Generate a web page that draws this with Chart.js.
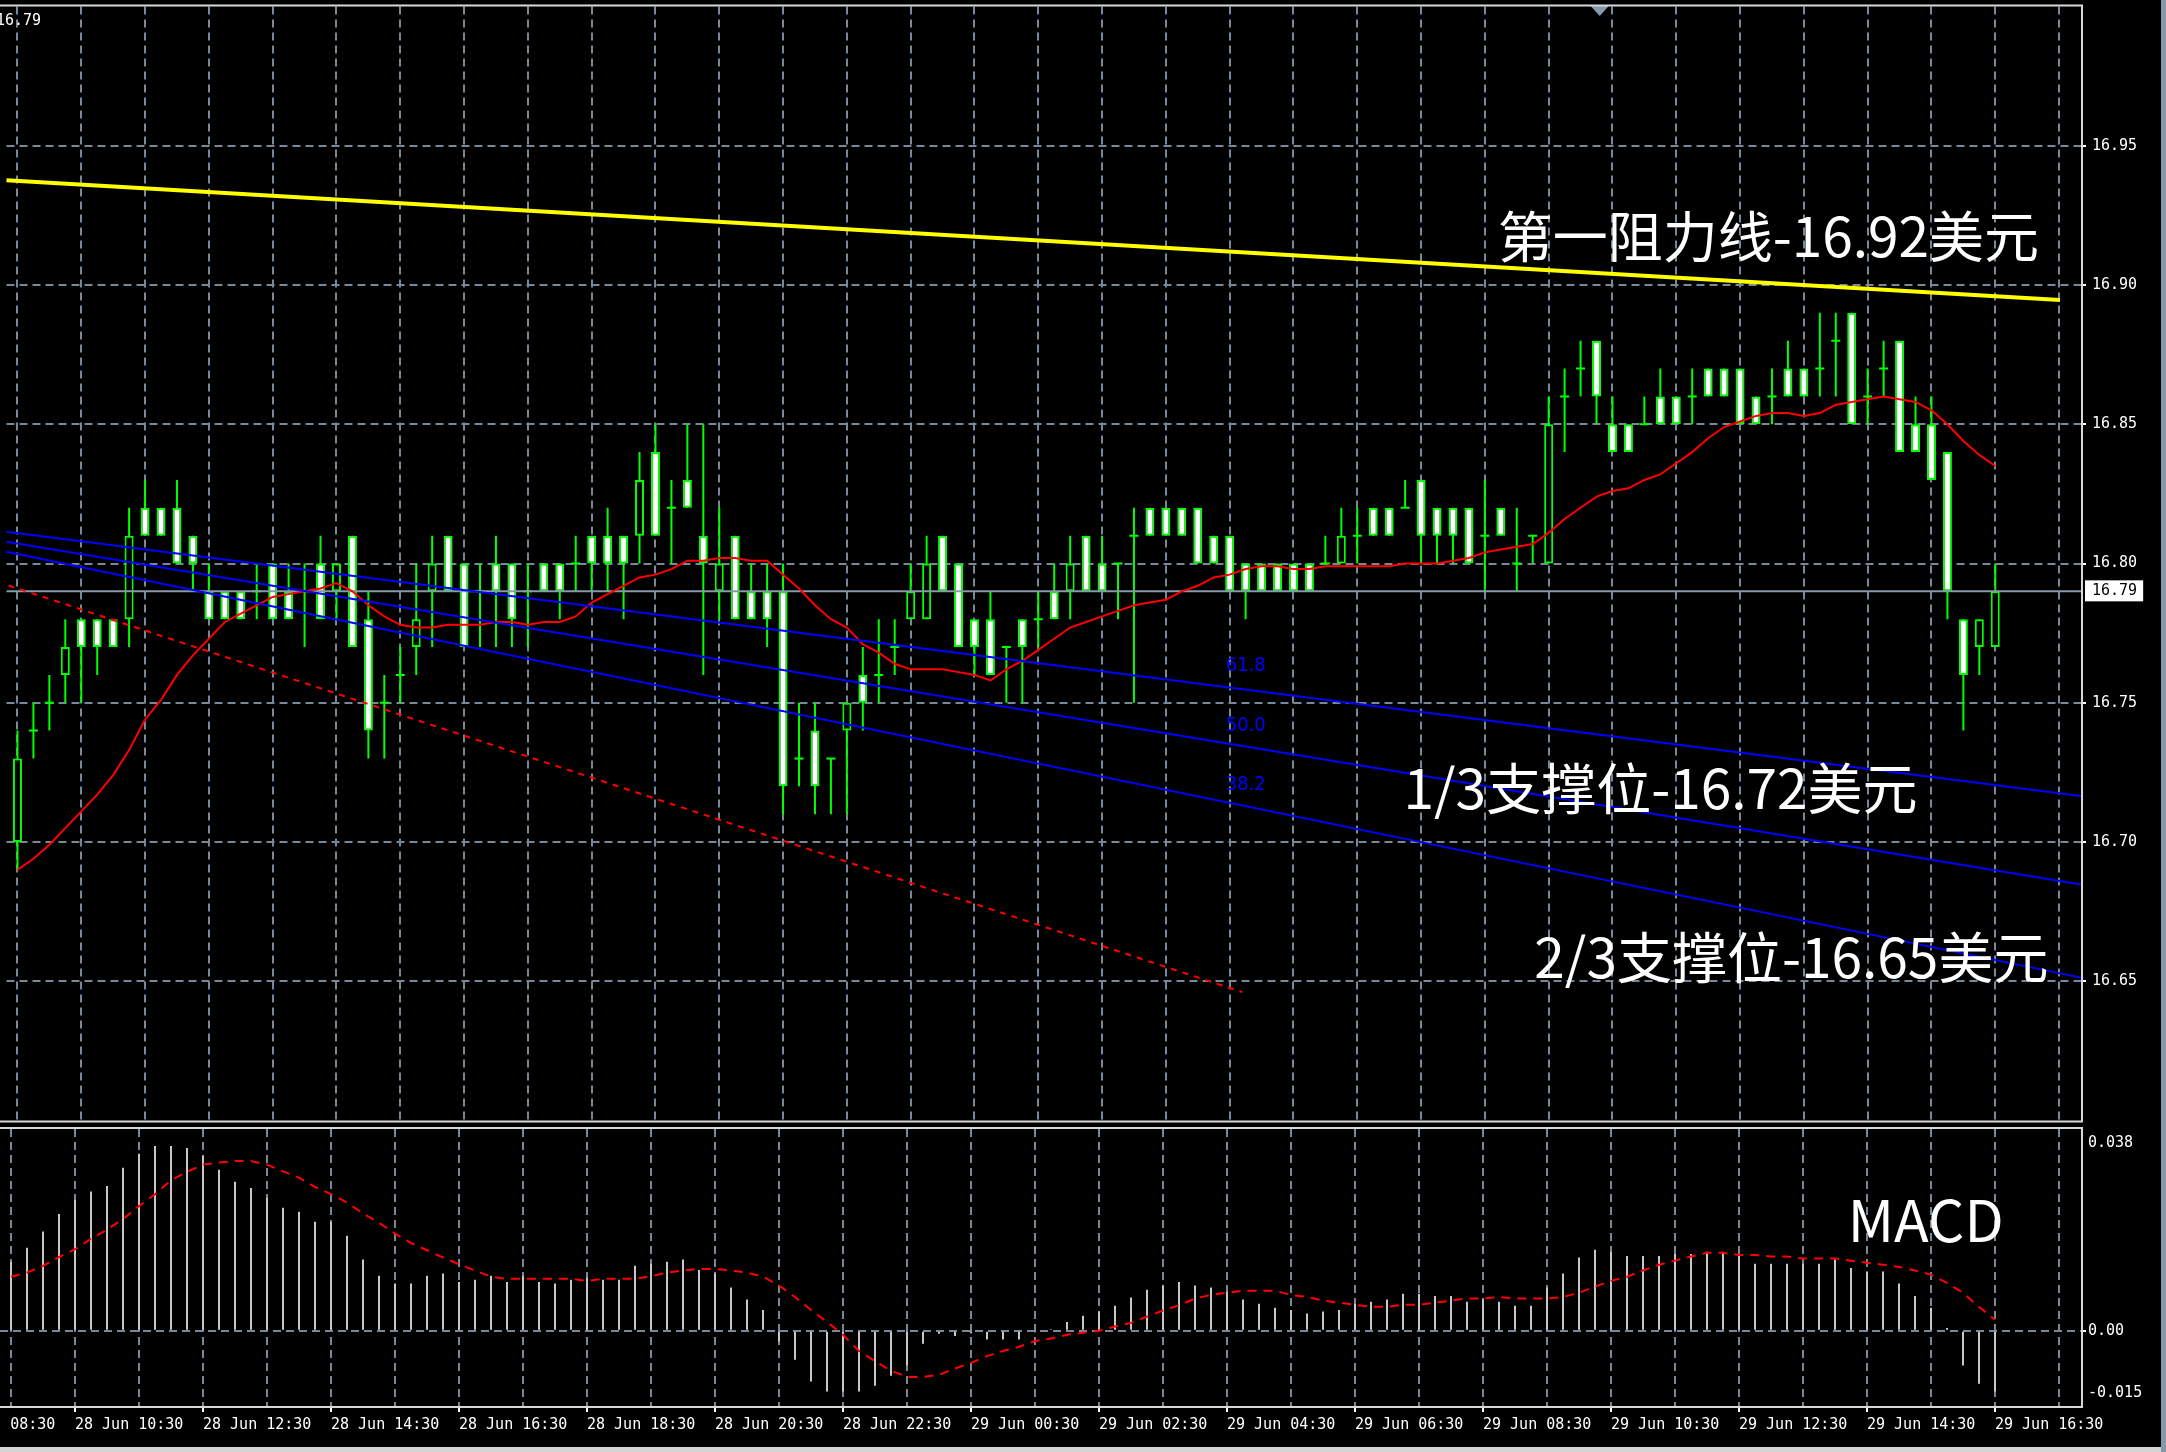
<!DOCTYPE html>
<html><head><meta charset="utf-8">
<script src="https://cdn.jsdelivr.net/npm/chart.js@4.4.1/dist/chart.umd.min.js"></script>
<style>
html,body{margin:0;padding:0;background:#000;width:2166px;height:1452px;overflow:hidden;}
#wrap{position:relative;width:2166px;height:1452px;background:#000;}
#c1{position:absolute;left:0;top:0;}
#c2{position:absolute;left:0;top:1127px;}
#edgeR{position:absolute;left:2161px;top:0;width:5px;height:1452px;background:#8796a8;}
#edgeB{position:absolute;left:0;top:1447px;width:2161px;height:5px;background:#d4d4d4;}
</style></head><body>
<div id="wrap">
<canvas id="c1" width="2166" height="1127" style="width:2166px;height:1127px"></canvas>
<canvas id="c2" width="2166" height="325" style="width:2166px;height:325px"></canvas>
<div id="edgeR"></div><div id="edgeB"></div>
</div>
<script>
// ---------------- DATA (M15 silver, candle 0 = 28 Jun 09:30) ----------------
const opens  = [16.70,16.74,16.75,16.76,16.78,16.78,16.78,16.78,16.82,16.82,16.82,16.81,16.79,16.79,16.79,16.79,16.80,16.79,16.79,16.80,
16.79,16.81,16.78,16.75,16.76,16.77,16.79,16.81,16.80,16.79,16.80,16.80,16.79,16.80,16.80,16.80,16.81,16.81,16.81,16.81,
16.84,16.82,16.83,16.81,16.79,16.81,16.79,16.79,16.79,16.73,16.74,16.73,16.74,16.76,16.76,16.77,16.78,16.78,16.81,16.80,
16.78,16.78,16.77,16.78,16.78,16.79,16.79,16.81,16.80,16.80,16.81,16.82,16.82,16.82,16.82,16.81,16.81,16.80,16.80,16.80,
16.80,16.80,16.80,16.80,16.81,16.82,16.82,16.82,16.83,16.82,16.82,16.82,16.81,16.82,16.80,16.81,16.80,16.86,16.87,16.88,
16.85,16.85,16.85,16.86,16.86,16.86,16.87,16.87,16.87,16.86,16.86,16.87,16.87,16.87,16.88,16.89,16.86,16.87,16.88,16.85,
16.85,16.84,16.78,16.77,16.77];
const highs  = [16.74,16.75,16.76,16.78,16.78,16.78,16.78,16.82,16.83,16.82,16.83,16.81,16.80,16.79,16.79,16.80,16.80,16.80,16.80,16.81,
16.80,16.81,16.79,16.76,16.77,16.80,16.81,16.81,16.80,16.80,16.81,16.80,16.80,16.80,16.80,16.81,16.81,16.82,16.81,16.84,
16.85,16.83,16.85,16.85,16.82,16.81,16.80,16.80,16.80,16.75,16.75,16.73,16.75,16.77,16.78,16.78,16.80,16.81,16.81,16.80,
16.78,16.79,16.77,16.78,16.79,16.80,16.81,16.81,16.81,16.80,16.82,16.82,16.82,16.82,16.82,16.81,16.81,16.80,16.80,16.80,
16.80,16.80,16.81,16.82,16.82,16.82,16.82,16.83,16.83,16.82,16.82,16.82,16.83,16.82,16.82,16.81,16.86,16.87,16.88,16.88,
16.86,16.85,16.86,16.87,16.86,16.87,16.87,16.87,16.87,16.86,16.87,16.88,16.87,16.89,16.89,16.89,16.87,16.88,16.88,16.86,
16.86,16.84,16.78,16.78,16.80];
const lows   = [16.69,16.73,16.74,16.75,16.75,16.76,16.77,16.77,16.81,16.81,16.80,16.79,16.78,16.78,16.78,16.78,16.78,16.78,16.77,16.78,
16.78,16.77,16.73,16.73,16.75,16.76,16.77,16.79,16.77,16.77,16.77,16.77,16.77,16.79,16.78,16.79,16.79,16.79,16.78,16.80,
16.81,16.80,16.82,16.76,16.78,16.78,16.78,16.77,16.71,16.72,16.71,16.71,16.71,16.74,16.75,16.76,16.78,16.78,16.79,16.77,
16.76,16.76,16.75,16.75,16.77,16.78,16.78,16.79,16.79,16.78,16.75,16.81,16.81,16.81,16.80,16.80,16.79,16.78,16.79,16.79,
16.79,16.79,16.80,16.80,16.80,16.81,16.81,16.82,16.80,16.80,16.80,16.80,16.79,16.81,16.79,16.80,16.80,16.84,16.86,16.85,
16.84,16.84,16.85,16.85,16.85,16.85,16.86,16.86,16.85,16.85,16.85,16.86,16.86,16.86,16.86,16.85,16.85,16.86,16.84,16.84,
16.83,16.78,16.74,16.76,16.77];
const closes = [16.73,16.74,16.75,16.77,16.77,16.77,16.77,16.81,16.81,16.81,16.80,16.80,16.78,16.78,16.78,16.79,16.78,16.78,16.79,16.78,
16.80,16.77,16.74,16.75,16.76,16.78,16.80,16.79,16.77,16.79,16.79,16.78,16.79,16.79,16.79,16.80,16.80,16.80,16.80,16.83,
16.81,16.82,16.82,16.80,16.80,16.78,16.78,16.78,16.72,16.73,16.72,16.73,16.75,16.75,16.76,16.77,16.79,16.80,16.79,16.77,
16.77,16.76,16.77,16.77,16.78,16.78,16.80,16.79,16.79,16.80,16.81,16.81,16.81,16.81,16.80,16.80,16.79,16.79,16.79,16.79,
16.79,16.79,16.80,16.81,16.81,16.81,16.81,16.82,16.81,16.81,16.81,16.80,16.81,16.81,16.80,16.81,16.85,16.86,16.87,16.86,
16.84,16.84,16.85,16.85,16.85,16.86,16.86,16.86,16.85,16.85,16.86,16.86,16.86,16.87,16.88,16.85,16.86,16.87,16.84,16.84,
16.83,16.79,16.76,16.78,16.79];
const maValues = [16.690,16.694,16.699,16.705,16.711,16.717,16.724,16.733,16.744,16.751,16.760,16.767,16.773,16.779,16.782,16.785,16.788,16.789,16.790,16.791,
16.793,16.790,16.785,16.781,16.778,16.777,16.777,16.778,16.778,16.778,16.779,16.779,16.778,16.779,16.779,16.781,16.786,16.789,16.792,16.795,
16.796,16.798,16.801,16.801,16.802,16.802,16.801,16.801,16.796,16.791,16.785,16.780,16.777,16.771,16.768,16.764,16.762,16.762,16.762,16.761,
16.760,16.758,16.762,16.765,16.769,16.773,16.777,16.779,16.781,16.783,16.785,16.786,16.787,16.790,16.792,16.795,16.796,16.798,16.799,16.799,
16.798,16.798,16.799,16.799,16.799,16.799,16.799,16.800,16.800,16.800,16.801,16.802,16.804,16.805,16.806,16.807,16.811,16.816,16.820,16.824,
16.826,16.827,16.830,16.832,16.836,16.840,16.845,16.849,16.851,16.853,16.854,16.854,16.853,16.854,16.857,16.858,16.859,16.860,16.859,16.858,
16.855,16.850,16.844,16.839,16.835];
const macdHist = [0.0133,0.0160,0.0191,0.0225,0.0252,0.0268,0.0279,0.0314,0.0341,0.0356,0.0356,0.0352,0.0337,0.0310,0.0287,0.0275,0.0256,0.0237,0.0229,0.0210,
0.0210,0.0183,0.0137,0.0106,0.0091,0.0091,0.0106,0.0110,0.0094,0.0098,0.0106,0.0094,0.0106,0.0094,0.0091,0.0098,0.0102,0.0098,0.0098,0.0125,
0.0129,0.0133,0.0137,0.0117,0.0110,0.0083,0.0060,0.0040,-0.0021,-0.0056,-0.0098,-0.0117,-0.0117,-0.0117,-0.0106,-0.0087,-0.0067,-0.0025,-0.0006,-0.0010,
-0.0005,-0.0017,-0.0017,-0.0017,-0.0003,0.0003,0.0017,0.0029,0.0037,0.0048,0.0064,0.0079,0.0087,0.0094,0.0087,0.0083,0.0075,0.0060,0.0052,0.0044,
0.0040,0.0033,0.0037,0.0040,0.0052,0.0056,0.0060,0.0071,0.0071,0.0067,0.0067,0.0056,0.0060,0.0056,0.0048,0.0048,0.0083,0.0110,0.0141,0.0156,
0.0152,0.0144,0.0144,0.0144,0.0148,0.0148,0.0152,0.0152,0.0148,0.0129,0.0129,0.0129,0.0129,0.0129,0.0137,0.0121,0.0114,0.0114,0.0091,0.0067,
0.0044,0.0005,-0.0067,-0.0102,-0.0117];
const macdSignal = [0.0104,0.0112,0.0125,0.0142,0.0157,0.0177,0.0195,0.0215,0.0240,0.0263,0.0290,0.0306,0.0320,0.0324,0.0327,0.0327,0.0320,0.0307,0.0295,0.0277,
0.0263,0.0247,0.0226,0.0208,0.0187,0.0169,0.0155,0.0141,0.0128,0.0116,0.0104,0.0100,0.0100,0.0100,0.0100,0.0100,0.0096,0.0100,0.0100,0.0100,
0.0105,0.0112,0.0116,0.0119,0.0119,0.0116,0.0112,0.0104,0.0087,0.0065,0.0040,0.0017,-0.0008,-0.0039,-0.0059,-0.0077,-0.0089,-0.0089,-0.0085,-0.0073,
-0.0062,-0.0049,-0.0039,-0.0031,-0.0020,-0.0015,-0.0008,-0.0004,0.0000,0.0008,0.0015,0.0027,0.0039,0.0049,0.0062,0.0069,0.0073,0.0077,0.0077,0.0077,
0.0069,0.0065,0.0058,0.0054,0.0050,0.0046,0.0046,0.0050,0.0050,0.0054,0.0058,0.0062,0.0062,0.0065,0.0062,0.0062,0.0062,0.0065,0.0073,0.0085,
0.0096,0.0104,0.0116,0.0127,0.0135,0.0143,0.0150,0.0150,0.0146,0.0146,0.0143,0.0143,0.0139,0.0139,0.0139,0.0135,0.0131,0.0127,0.0123,0.0116,
0.0108,0.0092,0.0073,0.0046,0.0021];
// drawn objects (candle index, price)
const resistanceLine = [[-0.69, 16.9376], [128.06, 16.8946]];
const fibLine618 = [[-0.6875, 16.8114], [129.375, 16.7165]];
const fibLine500 = [[-0.6875, 16.8078], [129.375, 16.6847]];
const fibLine382 = [[-0.6875, 16.8042], [129.375, 16.6513]];
const redTrend   = [[-0.56, 16.7921], [76.8, 16.6461]];
const currentPrice = 16.79;
const priceTickValues = [16.65, 16.70, 16.75, 16.80, 16.85, 16.90, 16.95];
const priceTickLabels = ['16.65','16.70','16.75','16.80','16.85','16.90','16.95'];
const macdTickLabels = ['0.038','0.00','-0.015'];
const timeTickIdx = [-4,4,12,20,28,36,44,52,60,68,76,84,92,100,108,116,124];
const timeTickLabels = ['28 Jun 08:30','28 Jun 10:30','28 Jun 12:30','28 Jun 14:30','28 Jun 16:30','28 Jun 18:30','28 Jun 20:30','28 Jun 22:30',
 '29 Jun 00:30','29 Jun 02:30','29 Jun 04:30','29 Jun 06:30','29 Jun 08:30','29 Jun 10:30','29 Jun 12:30','29 Jun 14:30','29 Jun 16:30'];
const fibLabels = ['61.8','50.0','38.2'];
const noteTexts = ['第一阻力线-16.92美元','1/3支撑位-16.72美元','2/3支撑位-16.65美元'];

// ---------------- LAYOUT / STYLE ----------------
const X_MIN = -0.6875, X_MAX = 129.375;
const GRID = '#778899', DASH = [8,5];
const AXIS_FONT = {family: 'DejaVu Sans Mono', size: 15};
const gridTicks = []; for (let t = 0; t <= 128; t += 4) gridTicks.push(t);
const fibLabelPos = [[75.75, 16.7631],[75.75, 16.7419],[75.75, 16.7206]];
const notePos = [[92.8, 16.9175],[86.9, 16.7195],[95.1, 16.6588]];
const macdNotePos = [114.8, 0.02133];
const shiftMarkerIdx = 99.2;

const idx = opens.map((_, i) => i);
const wickData = idx.map(i => ({x: i, y: [lows[i], highs[i]]}));
const bodyIdx = idx.filter(i => opens[i] !== closes[i]);
const bodyData = bodyIdx.map(i => ({x: i, y: [Math.min(opens[i], closes[i]), Math.max(opens[i], closes[i])]}));
const bodyFill = bodyIdx.map(i => closes[i] > opens[i] ? '#000000' : '#ffffff');
const dojiData = idx.filter(i => opens[i] === closes[i]).map(i => ({x: i, y: closes[i]}));
const maData = idx.map(i => ({x: i, y: maValues[i]}));
const pts = a => a.map(p => ({x: p[0], y: p[1]}));
const isCur = c => c.tick && Math.abs(c.tick.value - currentPrice) < 1e-9;

const lineDs = (data, color, width, dash, order) => ({type: 'line', data, borderColor: color, borderWidth: width,
  borderDash: dash || [], pointRadius: 0, pointHoverRadius: 0, tension: 0, fill: false, order, clip: false});

const overlay1 = {
  id: 'overlay1',
  afterDatasetsDraw(chart) {
    const {ctx, scales: {x, y}} = chart;
    ctx.save();
    ctx.fillStyle = '#0000ff';
    ctx.font = '20px "Liberation Sans Narrow", "DejaVu Sans Condensed", "DejaVu Sans"';
    ctx.textBaseline = 'middle'; ctx.textAlign = 'left';
    fibLabels.forEach((t, k) => ctx.fillText(t, x.getPixelForValue(fibLabelPos[k][0]), y.getPixelForValue(fibLabelPos[k][1])));
    ctx.fillStyle = '#ffffff';
    ctx.font = '55px "Noto Sans CJK SC"';
    noteTexts.forEach((t, k) => ctx.fillText(t, x.getPixelForValue(notePos[k][0]), y.getPixelForValue(notePos[k][1])));
    ctx.font = '15px "DejaVu Sans Mono"';
    ctx.fillText(String(currentPrice.toFixed(2)), -4, 21);
    const mx = x.getPixelForValue(shiftMarkerIdx);
    ctx.fillStyle = '#8899aa';
    ctx.beginPath(); ctx.moveTo(mx - 9, 6); ctx.lineTo(mx + 9, 6); ctx.lineTo(mx, 16); ctx.closePath(); ctx.fill();
    ctx.restore();
  },
  afterDraw(chart) {
    const {ctx, chartArea: a} = chart;
    ctx.save();
    ctx.strokeStyle = '#d8d8d8'; ctx.lineWidth = 2;
    ctx.beginPath();
    ctx.moveTo(0, a.top - 1); ctx.lineTo(a.right + 1, a.top - 1);
    ctx.lineTo(a.right + 1, a.bottom + 1); ctx.lineTo(0, a.bottom + 1);
    ctx.stroke();
    ctx.restore();
  }
};

const overlay2 = {
  id: 'overlay2',
  afterDatasetsDraw(chart) {
    const {ctx, scales: {x, y}} = chart;
    ctx.save();
    ctx.fillStyle = '#ffffff';
    ctx.font = '57px "Noto Sans CJK SC"';
    ctx.textBaseline = 'middle'; ctx.textAlign = 'left';
    ctx.fillText('MACD', x.getPixelForValue(macdNotePos[0]), y.getPixelForValue(macdNotePos[1]));
    ctx.restore();
  },
  afterDraw(chart) {
    const {ctx, chartArea: a} = chart;
    ctx.save();
    ctx.strokeStyle = '#d8d8d8'; ctx.lineWidth = 2;
    ctx.beginPath();
    ctx.moveTo(0, a.top - 1); ctx.lineTo(a.right + 1, a.top - 1);
    ctx.lineTo(a.right + 1, a.bottom + 1); ctx.lineTo(0, a.bottom + 1);
    ctx.stroke();
    ctx.restore();
  }
};

Chart.defaults.font.family = 'DejaVu Sans Mono';

new Chart(document.getElementById('c1'), {
  type: 'line',
  data: {
    datasets: [
      lineDs(pts(resistanceLine), '#ffff00', 4, null, 0),
      lineDs(pts(fibLine618), '#0000ff', 2, null, 0),
      lineDs(pts(fibLine500), '#0000ff', 2, null, 0),
      lineDs(pts(fibLine382), '#0000ff', 2, null, 0),
      lineDs(pts(redTrend), '#ff0000', 2, [6,6], 0),
      lineDs(maData, '#ff0000', 2, null, 0),
      lineDs([{x: X_MIN, y: currentPrice}, {x: X_MAX, y: currentPrice}], '#8899aa', 2, null, 1),
      {type: 'line', data: dojiData, showLine: false, pointStyle: 'line', pointRadius: 4.5, pointHoverRadius: 4.5,
        pointBorderColor: '#00ff00', pointBorderWidth: 2, borderColor: '#00ff00', order: 3},
      {type: 'bar', data: bodyData, barThickness: 9, grouped: false, borderColor: '#00ff00', borderWidth: 2,
        borderSkipped: false, inflateAmount: 0, backgroundColor: c => bodyFill[c.dataIndex], order: 3},
      {type: 'bar', data: wickData, barThickness: 2, grouped: false, borderWidth: 0, inflateAmount: 0,
        backgroundColor: '#00ff00', order: 4}
    ]
  },
  options: {
    responsive: false, animation: false, events: [],
    layout: {padding: {top: 5, bottom: 2.5, left: 0, right: 0}},
    plugins: {legend: {display: false}, tooltip: {enabled: false}},
    scales: {
      x: {
        type: 'linear', min: X_MIN, max: X_MAX, offset: false,
        afterBuildTicks: s => { s.ticks = gridTicks.map(v => ({value: v})); },
        afterFit: s => { s.height = 0; s.paddingLeft = 0; s.paddingRight = 0; },
        ticks: {display: false},
        grid: {color: GRID, lineWidth: 2, drawTicks: false, offset: false},
        border: {display: false, dash: DASH}
      },
      y: {
        type: 'linear', position: 'right', min: 16.6, max: 17.0,
        afterBuildTicks: s => { s.ticks = priceTickValues.concat([currentPrice]).sort((a, b) => a - b).map(v => ({value: v})); },
        afterFit: s => { s.width = 85; s.paddingTop = 0; s.paddingBottom = 0; },
        ticks: {
          autoSkip: false, padding: 6, font: AXIS_FONT,
          color: c => isCur(c) ? '#000000' : '#ffffff',
          showLabelBackdrop: c => isCur(c),
          backdropColor: '#ffffff',
          backdropPadding: {left: 7, right: 6, top: 2, bottom: 1},
          callback: v => {
            if (Math.abs(v - currentPrice) < 1e-9) return currentPrice.toFixed(2);
            const k = priceTickValues.findIndex(p => Math.abs(p - v) < 1e-9);
            return k >= 0 ? priceTickLabels[k] : '';
          }
        },
        grid: {color: c => isCur(c) ? 'rgba(0,0,0,0)' : GRID, lineWidth: 2, tickLength: 5,
          tickColor: c => isCur(c) ? 'rgba(0,0,0,0)' : '#ffffff', tickWidth: 2, tickBorderDash: []},
        border: {display: false, dash: DASH}
      }
    }
  },
  plugins: [overlay1]
});

const M_MIN = -0.014509, M_MAX = 0.038863;
const macdTickVals = [0.03605, 0, -0.0120];
new Chart(document.getElementById('c2'), {
  type: 'line',
  data: {
    datasets: [
      lineDs(idx.map(i => ({x: i, y: macdSignal[i]})), '#ff0000', 2, [9,7], 0),
      {type: 'bar', data: idx.map(i => ({x: i, y: macdHist[i]})), barThickness: 2, grouped: false, borderWidth: 0,
        inflateAmount: 0, backgroundColor: '#c8c8c8', order: 2}
    ]
  },
  options: {
    responsive: false, animation: false, events: [],
    layout: {padding: {top: 2, bottom: 0, left: 0, right: 0}},
    plugins: {legend: {display: false}, tooltip: {enabled: false}},
    scales: {
      x: {
        type: 'linear', min: X_MIN, max: X_MAX, offset: false,
        afterBuildTicks: s => { s.ticks = [-4].concat(gridTicks).map(v => ({value: v})); },
        afterFit: s => { s.height = 46; s.paddingLeft = 0; s.paddingRight = 0; },
        ticks: {
          autoSkip: false, maxRotation: 0, minRotation: 0, align: 'start', padding: 4, color: '#ffffff', font: AXIS_FONT,
          callback: v => { const k = timeTickIdx.indexOf(v); return k >= 0 ? timeTickLabels[k] : ''; }
        },
        grid: {color: GRID, lineWidth: 2, drawTicks: true, tickLength: 6, tickWidth: 2, tickBorderDash: [], offset: false,
          tickColor: c => (c.tick && timeTickIdx.indexOf(c.tick.value) >= 0) ? '#ffffff' : 'rgba(0,0,0,0)'},
        border: {display: false, dash: DASH}
      },
      y: {
        type: 'linear', position: 'right', min: M_MIN, max: M_MAX,
        afterBuildTicks: s => { s.ticks = macdTickVals.slice().sort((a, b) => a - b).map(v => ({value: v})); },
        afterFit: s => { s.width = 85; s.paddingTop = 0; s.paddingBottom = 0; },
        ticks: {
          autoSkip: false, padding: 2, color: '#ffffff', font: AXIS_FONT,
          callback: v => { const k = macdTickVals.findIndex(p => Math.abs(p - v) < 1e-9); return k >= 0 ? macdTickLabels[k] : ''; }
        },
        grid: {color: c => (c.tick && c.tick.value === 0) ? GRID : 'rgba(0,0,0,0)', lineWidth: 2, tickLength: 5, tickWidth: 2,
          tickColor: c => (c.tick && c.tick.value === 0) ? '#ffffff' : 'rgba(0,0,0,0)', tickBorderDash: []},
        border: {display: false, dash: DASH}
      }
    }
  },
  plugins: [overlay2]
});
</script>
</body></html>
